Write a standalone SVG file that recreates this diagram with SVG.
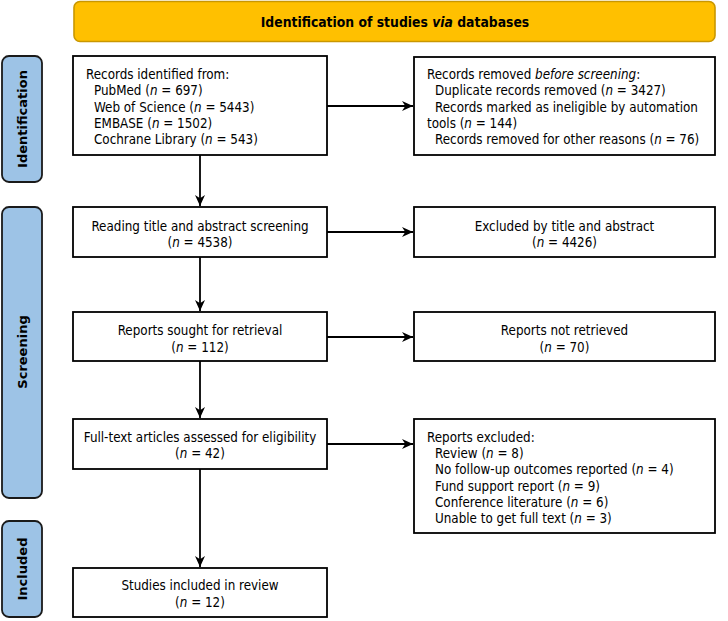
<svg xmlns="http://www.w3.org/2000/svg" width="728" height="621" viewBox="0 0 728 621">
<style>
  text { font-family: "DejaVu Sans Condensed", "Liberation Sans", sans-serif; font-size: 13.3px; fill: #000; }
  .box { fill: #fff; stroke: #000; stroke-width: 1.8; }
  .side { fill: #9DC3E6; stroke: #1a1a1a; stroke-width: 1.8; }
  .side-t { font-family: "DejaVu Sans", "Liberation Sans", sans-serif; font-weight: bold; font-size: 13px; }
  .banner { fill: #FFC000; stroke: #C99700; stroke-width: 1.6; }
  .title { font-weight: bold; font-size: 13.8px; }
  .c { text-anchor: middle; }
  .i { font-style: italic; }
  .conn line { stroke: #000; stroke-width: 1.8; }
</style>
<defs>
  <marker id="arr" viewBox="0 0 10 10" refX="10" refY="5" markerWidth="11" markerHeight="10" orient="auto" markerUnits="userSpaceOnUse" preserveAspectRatio="none">
    <path d="M0,0 L10,5 L0,10 L3,5 z" fill="#000"/>
  </marker>
</defs>

<g id="banner">
  <rect class="banner" x="74" y="1.5" width="641" height="40" rx="6"/>
  <text class="title c" x="395" y="26.5">Identification of studies <tspan class="i">via</tspan> databases</text>
</g>

<g id="side-identification">
  <rect class="side" x="2" y="56" width="40" height="126" rx="7"/>
  <text class="side-t c" transform="translate(27,119) rotate(-90)">Identification</text>
</g>
<g id="side-screening">
  <rect class="side" x="2" y="207" width="40" height="291" rx="7"/>
  <text class="side-t c" transform="translate(27,352) rotate(-90)">Screening</text>
</g>
<g id="side-included">
  <rect class="side" x="2" y="521" width="40" height="96" rx="7"/>
  <text class="side-t c" transform="translate(27,569) rotate(-90)">Included</text>
</g>

<g id="records-identified">
  <rect class="box" x="73" y="56" width="254" height="99"/>
  <text x="86" y="79">Records identified from:</text>
  <text x="94" y="95">PubMed (<tspan class="i">n</tspan> = 697)</text>
  <text x="94" y="112">Web of Science (<tspan class="i">n</tspan> = 5443)</text>
  <text x="94" y="128">EMBASE (<tspan class="i">n</tspan> = 1502)</text>
  <text x="94" y="144">Cochrane Library (<tspan class="i">n</tspan> = 543)</text>
</g>

<g id="records-removed">
  <rect class="box" x="414" y="57" width="301" height="98"/>
  <text x="427" y="79">Records removed <tspan class="i">before screening</tspan>:</text>
  <text x="435" y="95">Duplicate records removed (<tspan class="i">n</tspan> = 3427)</text>
  <text x="435" y="112">Records marked as ineligible by automation</text>
  <text x="427" y="128">tools (<tspan class="i">n</tspan> = 144)</text>
  <text x="435" y="144">Records removed for other reasons (<tspan class="i">n</tspan> = 76)</text>
</g>

<g id="screening">
  <rect class="box" x="73" y="207" width="254" height="50"/>
  <text class="c" x="200" y="231">Reading title and abstract screening</text>
  <text class="c" x="200" y="247">(<tspan class="i">n</tspan> = 4538)</text>
</g>

<g id="excluded-title">
  <rect class="box" x="414" y="207" width="301" height="50"/>
  <text class="c" x="564.5" y="231">Excluded by title and abstract</text>
  <text class="c" x="564.5" y="247">(<tspan class="i">n</tspan> = 4426)</text>
</g>

<g id="sought">
  <rect class="box" x="73" y="312" width="254" height="49"/>
  <text class="c" x="200" y="335">Reports sought for retrieval</text>
  <text class="c" x="200" y="352">(<tspan class="i">n</tspan> = 112)</text>
</g>

<g id="not-retrieved">
  <rect class="box" x="414" y="312" width="301" height="49"/>
  <text class="c" x="564.5" y="335">Reports not retrieved</text>
  <text class="c" x="564.5" y="352">(<tspan class="i">n</tspan> = 70)</text>
</g>

<g id="fulltext">
  <rect class="box" x="73" y="419" width="254" height="50"/>
  <text class="c" x="200" y="442">Full-text articles assessed for eligibility</text>
  <text class="c" x="200" y="458">(<tspan class="i">n</tspan> = 42)</text>
</g>

<g id="reports-excluded">
  <rect class="box" x="414" y="419" width="301" height="114"/>
  <text x="427" y="442">Reports excluded:</text>
  <text x="435" y="458">Review (<tspan class="i">n</tspan> = 8)</text>
  <text x="435" y="474">No follow-up outcomes reported (<tspan class="i">n</tspan> = 4)</text>
  <text x="435" y="491">Fund support report (<tspan class="i">n</tspan> = 9)</text>
  <text x="435" y="507">Conference literature (<tspan class="i">n</tspan> = 6)</text>
  <text x="435" y="523">Unable to get full text (<tspan class="i">n</tspan> = 3)</text>
</g>

<g id="included">
  <rect class="box" x="73" y="568" width="254" height="49"/>
  <text class="c" x="200" y="590">Studies included in review</text>
  <text class="c" x="200" y="607">(<tspan class="i">n</tspan> = 12)</text>
</g>

<g id="connectors" class="conn">
  <line x1="327" y1="106" x2="413" y2="106" marker-end="url(#arr)"/>
  <line x1="200" y1="155" x2="200" y2="206" marker-end="url(#arr)"/>
  <line x1="327" y1="232" x2="413" y2="232" marker-end="url(#arr)"/>
  <line x1="200" y1="257" x2="200" y2="311" marker-end="url(#arr)"/>
  <line x1="327" y1="337" x2="413" y2="337" marker-end="url(#arr)"/>
  <line x1="200" y1="361" x2="200" y2="418" marker-end="url(#arr)"/>
  <line x1="327" y1="444" x2="413" y2="444" marker-end="url(#arr)"/>
  <line x1="200" y1="469" x2="200" y2="567" marker-end="url(#arr)"/>
</g>
</svg>
